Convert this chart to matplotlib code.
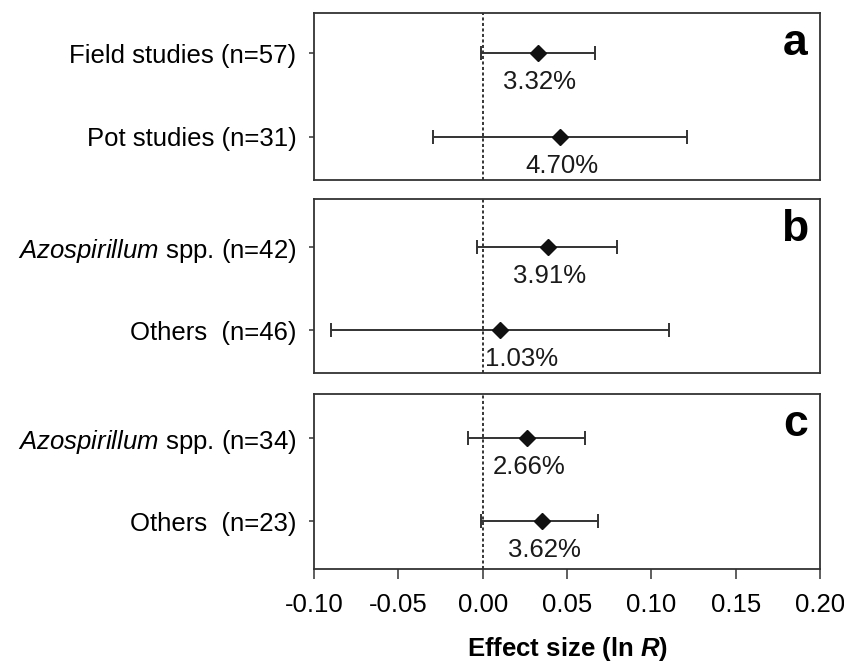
import matplotlib
matplotlib.use("Agg")
import matplotlib.pyplot as plt

plt.rcParams['font.family'] = ['Liberation Sans', 'DejaVu Sans']
plt.rcParams['mathtext.fontset'] = 'custom'
plt.rcParams['mathtext.rm'] = 'Liberation Sans'
plt.rcParams['mathtext.it'] = 'Liberation Sans:italic'
plt.rcParams['mathtext.bf'] = 'Liberation Sans:bold'
plt.rcParams['mathtext.bfit'] = 'Liberation Sans:bold:italic'

# ---- data ----
panel_letters = ['a', 'b', 'c']
labels_a = ['Field studies (n=57)', 'Pot studies (n=31)']
labels_b = [r'$\mathit{Azospirillum}$ spp. (n=42)', 'Others  (n=46)']
labels_c = [r'$\mathit{Azospirillum}$ spp. (n=34)', 'Others  (n=23)']
effect_a = [0.0327, 0.0460]
lower_a = [-0.0010, -0.0293]
upper_a = [0.0667, 0.1210]
pct_a = ['3.32%', '4.70%']
effect_b = [0.0386, 0.0102]
lower_b = [-0.0035, -0.0898]
upper_b = [0.0799, 0.1103]
pct_b = ['3.91%', '1.03%']
effect_c = [0.0263, 0.0353]
lower_c = [-0.0084, -0.0010]
upper_c = [0.0609, 0.0685]
pct_c = ['2.66%', '3.62%']
xticks = [-0.10, -0.05, 0.00, 0.05, 0.10, 0.15, 0.20]
xticklabels = ['-0.10', '-0.05', '0.00', '0.05', '0.10', '0.15', '0.20']

panels = [
    (labels_a, effect_a, lower_a, upper_a, pct_a),
    (labels_b, effect_b, lower_b, upper_b, pct_b),
    (labels_c, effect_c, lower_c, upper_c, pct_c),
]

W, H = 844, 664
fig = plt.figure(figsize=(W / 100, H / 100), dpi=100)

# axes rects in pixels (left, top, right, bottom) and ylims
rects = [(314, 12.7, 820, 180), (314, 199.3, 820, 373), (314, 394.3, 820, 569)]
ylims = [(-0.512, 1.48), (-0.518, 1.575), (-0.578, 1.527)]

spine_col = '#333333'
bar_col = '#333333'
fs = 18.5

for i, ((labs, eff, lo, hi, pct), (l, t, r, b), yl) in enumerate(zip(panels, rects, ylims)):
    ax = fig.add_axes([l / W, 1 - b / H, (r - l) / W, (b - t) / H])
    ypos = [1, 0]
    xerr = [[e - a for e, a in zip(eff, lo)], [c - e for e, c in zip(eff, hi)]]
    ax.axvline(0, color='black', linestyle=(0, (2, 1.6)), linewidth=1.1, zorder=1)
    ax.errorbar(eff, ypos, xerr=xerr, fmt='none', ecolor=bar_col, elinewidth=1.4,
                capsize=4.8, capthick=1.4, zorder=2)
    ax.plot(eff, ypos, linestyle='none', marker='D', markersize=8.4,
            color='#111111', markeredgecolor='#111111', zorder=3)
    for e, y, p in zip(eff, ypos, pct):
        if e < 0.02:
            ax.annotate(p, xy=(0.0012, y), xytext=(0, -36), textcoords='offset pixels',
                        ha='left', va='baseline', fontsize=fs, color='#1a1a1a')
        else:
            ax.annotate(p, xy=(e, y), xytext=(2, -36), textcoords='offset pixels',
                        ha='center', va='baseline', fontsize=fs, color='#1a1a1a')
    ax.set_xlim(-0.10, 0.20)
    ax.set_ylim(*yl)
    ax.set_yticks(ypos)
    ax.set_yticklabels(labs, fontsize=fs)
    ax.tick_params(axis='y', length=3.6, width=1.1, pad=9.0, color=spine_col)
    if i < 2:
        ax.set_xticks([])
    else:
        ax.set_xticks(xticks)
        ax.set_xticklabels(xticklabels, fontsize=fs)
        ax.tick_params(axis='x', length=7.2, width=1.1, pad=10.0, color=spine_col)
        ax.set_xlabel(r'Effect size (ln $\mathbfit{R}$)', fontsize=fs, fontweight='bold',
                      labelpad=13)
    for s in ax.spines.values():
        s.set_color(spine_col)
        s.set_linewidth(1.3)
    ax.annotate(panel_letters[i], xy=(1, 1), xycoords='axes fraction',
                xytext=(-12, -42), textcoords='offset pixels', ha='right',
                va='baseline', fontsize=32, fontweight='bold')

fig.savefig('out.png', dpi=100)
